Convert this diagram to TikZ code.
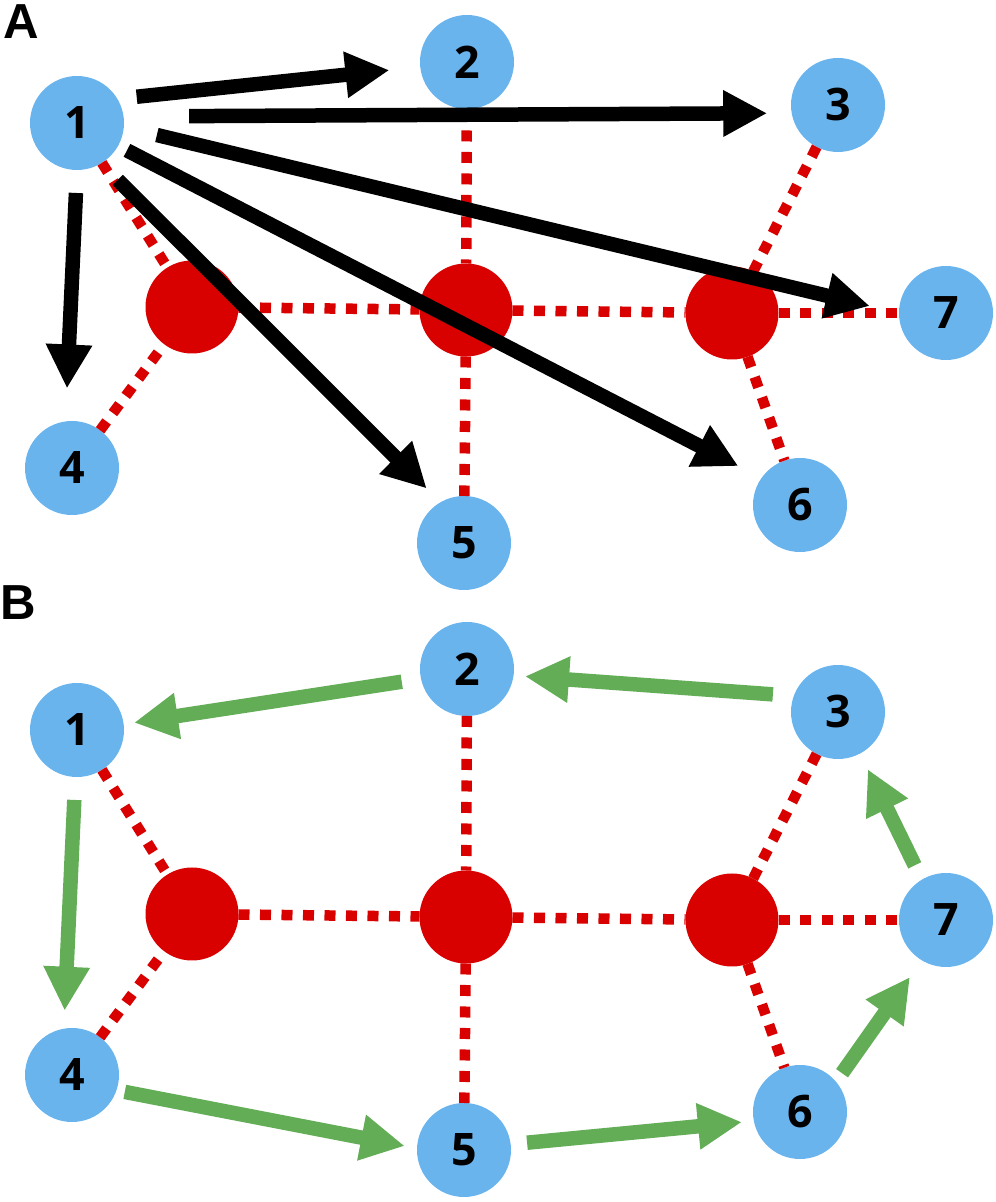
\documentclass[tikz,border=0pt]{standalone}
\usepackage{fontspec}
\setmainfont{Open Sans}
\newfontfamily\labelfamily{Liberation Sans}
\usetikzlibrary{arrows.meta}
\definecolor{nodeblue}{RGB}{106,180,238}
\definecolor{nodered}{RGB}{217,0,0}
\definecolor{arrowgreen}{RGB}{99,173,87}
\begin{document}
\begin{tikzpicture}[
  bnode/.style={circle,fill=nodeblue,minimum size=1.88cm,inner sep=0pt,outer sep=0pt,font=\fontsize{25.5}{30}\selectfont\bfseries},
  rnode/.style={circle,fill=nodered,minimum size=1.86cm,inner sep=0pt,outer sep=0pt},
  redline/.style={nodered,line width=0.21cm,dash pattern=on 0.22cm off 0.21cm},
  blkarrow/.style={line width=0.29cm,-{Triangle[length=0.88cm,width=0.87cm]}},
  grnarrow/.style={blkarrow,arrowgreen},
  panellabel/.style={anchor=base west,inner sep=0pt,font=\labelfamily\bfseries\fontsize{28}{32}\selectfont}]
\useasboundingbox (0,0) rectangle (19.92,24.04);
\node[panellabel] (labA) at (0.06,23.26) {A};
\node[panellabel] (labB) at (0.0,11.64) {B};
\foreach \p/\dy in {a/0,b/-12.14} {
  \begin{scope}[yshift=\dy cm]
    \node[bnode] (\p1) at (1.54,21.58) {1};
    \node[bnode] (\p2) at (9.34,22.80) {2};
    \node[bnode] (\p3) at (16.76,21.94) {3};
    \node[bnode] (\p4) at (1.44,14.68) {4};
    \node[bnode] (\p5) at (9.28,13.18) {5};
    \node[bnode] (\p6) at (16.00,13.94) {6};
    \node[bnode] (\p7) at (18.92,17.78) {7};
    \node[rnode] (\p-h1) at (3.84,17.90) {};
    \node[rnode] (\p-h2) at (9.32,17.84) {};
    \node[rnode] (\p-h3) at (14.64,17.78) {};
    \draw[redline] (\p1) -- (\p-h1);
    \draw[redline] (\p4) -- (\p-h1);
    \draw[redline] (\p-h1) -- (\p-h2);
    \draw[redline] (\p-h2) -- (\p-h3);
    \draw[redline] (\p-h3) -- (\p7);
    \draw[redline] (\p2) -- (\p-h2);
    \draw[redline] (\p-h2) -- (\p5);
    \draw[redline] (\p3) -- (\p-h3);
    \draw[redline] (\p-h3) -- (\p6);
  \end{scope}
}
\draw[blkarrow,shorten <=0.39cm,shorten >=0.62cm] (a1.31) -- (a2.186);
\draw[blkarrow,shorten <=1.31cm,shorten >=0.49cm] (a1.8) -- (a3.190);
\draw[blkarrow,shorten <=0.68cm,shorten >=0.60cm] (a1.355) -- (a7.180);
\draw[blkarrow,shorten <=0.20cm,shorten >=0.52cm] (a1.331) -- (a6.145);
\draw[blkarrow,shorten <=0.47cm,shorten >=0.39cm] (a1.301) -- (a5.120);
\draw[blkarrow,shorten <=0.46cm,shorten >=0.66cm] (a1.270) -- (a4.98);
\draw[grnarrow,shorten <=0.42cm,shorten >=0.23cm] (b3.160) -- (b2.352);
\draw[grnarrow,shorten <=0.39cm,shorten >=0.21cm] (b2.192) -- (b1.7);
\draw[grnarrow,shorten <=0.46cm,shorten >=0.36cm] (b1.268) -- (b4.100);
\draw[grnarrow,shorten <=0.17cm,shorten >=0.25cm] (b4.341) -- (b5.178);
\draw[grnarrow,shorten <=0.33cm,shorten >=0.24cm] (b5.7) -- (b6.191);
\draw[grnarrow,shorten <=0.21cm,shorten >=0.41cm] (b6.40) -- (b7.239);
\draw[grnarrow,shorten <=0.32cm,shorten >=0.35cm] (b7.121) -- (b3.298);
\end{tikzpicture}
\end{document}
